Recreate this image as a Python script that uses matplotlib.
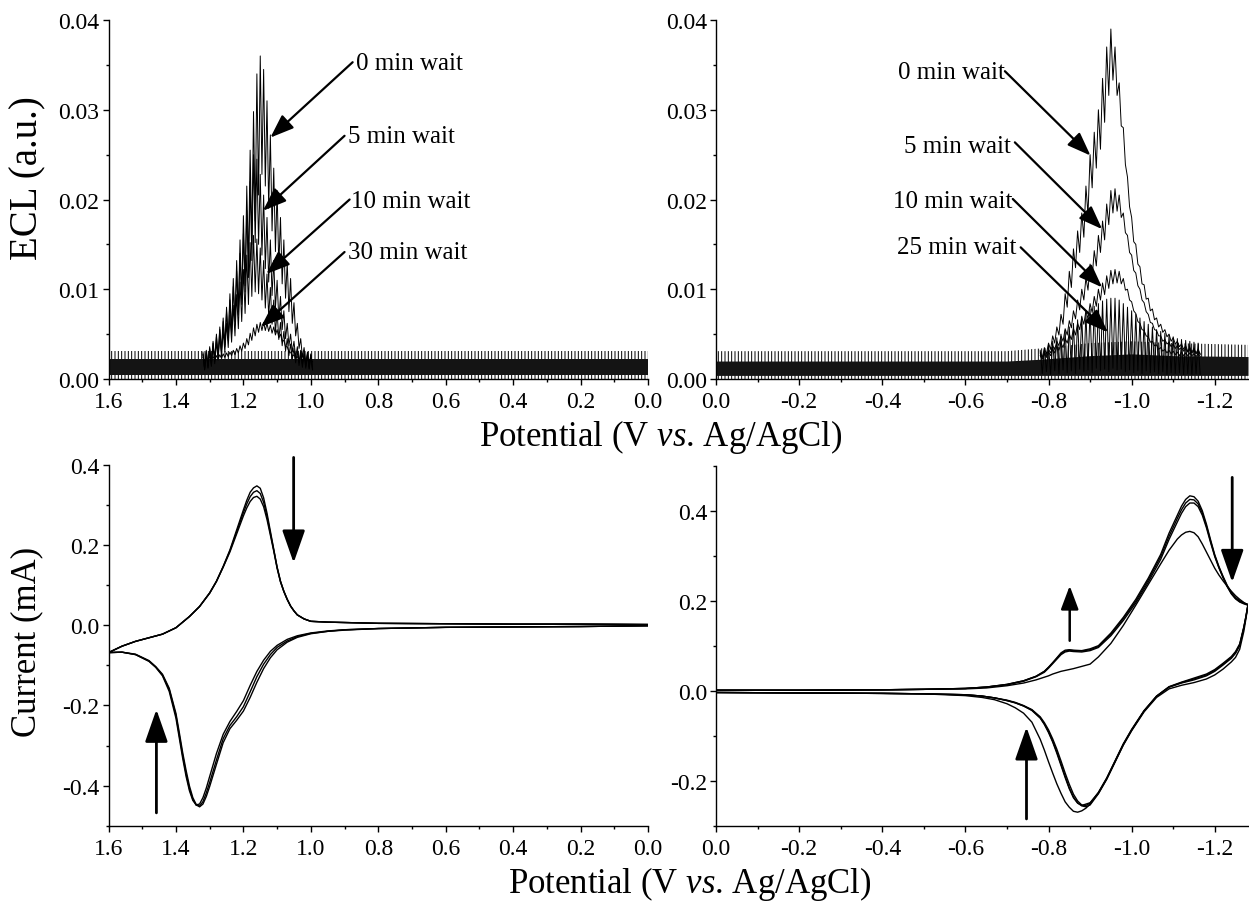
import numpy as np
import matplotlib.pyplot as plt
from matplotlib.ticker import MultipleLocator, FuncFormatter

plt.rcParams['font.family'] = ['Liberation Serif', 'DejaVu Serif']
plt.rcParams['mathtext.fontset'] = 'custom'
plt.rcParams['mathtext.rm'] = 'Liberation Serif'
plt.rcParams['mathtext.it'] = 'Liberation Serif:italic'
plt.rcParams['axes.unicode_minus'] = False
plt.rcParams['hatch.linewidth'] = 0.7

## ECL, positive scan (top left), spikes: hi = tops, lo = troughs
ecl_l_v = [1.32, 1.31, 1.30, 1.29, 1.28, 1.27, 1.26, 1.25, 1.24, 1.23, 1.22,
           1.21, 1.20, 1.19, 1.18, 1.17, 1.16, 1.15, 1.14, 1.13, 1.12, 1.11,
           1.10, 1.09, 1.08, 1.07, 1.06, 1.05, 1.04, 1.03, 1.02, 1.01, 1.00]
ecl_l0_hi = [0.0030, 0.0032, 0.0036, 0.0042, 0.0050, 0.0058, 0.0068, 0.0080, 0.0095, 0.0112, 0.0132,
             0.0155, 0.0182, 0.0215, 0.0255, 0.0298, 0.0340, 0.0360, 0.0345, 0.0310, 0.0272, 0.0235,
             0.0210, 0.0180, 0.0155, 0.0130, 0.0112, 0.0085, 0.0062, 0.0045, 0.0035, 0.0030, 0.0028]
ecl_l0_lo = [0.0012, 0.0015, 0.0018, 0.0022, 0.0026, 0.0031, 0.0038, 0.0046, 0.0052, 0.0064, 0.0075,
             0.0090, 0.0104, 0.0128, 0.0150, 0.0176, 0.0205, 0.0228, 0.0215, 0.0190, 0.0165, 0.0142,
             0.0125, 0.0106, 0.0090, 0.0075, 0.0062, 0.0048, 0.0034, 0.0024, 0.0018, 0.0014, 0.0012]
ecl_l5_hi = [0.0028, 0.0030, 0.0034, 0.0040, 0.0047, 0.0055, 0.0064, 0.0075, 0.0088, 0.0103, 0.0120,
             0.0140, 0.0162, 0.0188, 0.0220, 0.0250, 0.0245, 0.0228, 0.0205, 0.0180, 0.0155, 0.0132,
             0.0110, 0.0092, 0.0076, 0.0062, 0.0050, 0.0042, 0.0036, 0.0032, 0.0030, 0.0028, 0.0027]
ecl_l5_lo = [0.0011, 0.0013, 0.0016, 0.0020, 0.0025, 0.0030, 0.0036, 0.0043, 0.0050, 0.0060, 0.0071,
             0.0083, 0.0097, 0.0113, 0.0132, 0.0152, 0.0150, 0.0138, 0.0123, 0.0108, 0.0093, 0.0079,
             0.0066, 0.0055, 0.0045, 0.0037, 0.0030, 0.0024, 0.0019, 0.0016, 0.0014, 0.0012, 0.0011]
ecl_l10_hi = [0.0027, 0.0029, 0.0032, 0.0036, 0.0041, 0.0047, 0.0054, 0.0062, 0.0071, 0.0082, 0.0094,
              0.0108, 0.0122, 0.0138, 0.0152, 0.0160, 0.0156, 0.0146, 0.0132, 0.0117, 0.0102, 0.0088,
              0.0075, 0.0063, 0.0053, 0.0045, 0.0039, 0.0034, 0.0031, 0.0029, 0.0028, 0.0027, 0.0026]
ecl_l10_lo = [0.0010, 0.0012, 0.0014, 0.0017, 0.0021, 0.0025, 0.0030, 0.0035, 0.0041, 0.0048, 0.0056,
              0.0064, 0.0073, 0.0083, 0.0092, 0.0097, 0.0095, 0.0088, 0.0079, 0.0070, 0.0061, 0.0052,
              0.0044, 0.0037, 0.0031, 0.0026, 0.0022, 0.0018, 0.0015, 0.0013, 0.0012, 0.0011, 0.0010]
ecl_l30_hi = [0.0024, 0.0024, 0.0025, 0.0025, 0.0026, 0.0027, 0.0028, 0.0029, 0.0030, 0.0032, 0.0034,
              0.0037, 0.0040, 0.0045, 0.0051, 0.0057, 0.0061, 0.0063, 0.0063, 0.0062, 0.0060, 0.0058,
              0.0055, 0.0050, 0.0043, 0.0036, 0.0030, 0.0027, 0.0025, 0.0024, 0.0024, 0.0023, 0.0023]
ecl_l30_lo = [0.0020, 0.0020, 0.0021, 0.0021, 0.0022, 0.0023, 0.0024, 0.0025, 0.0026, 0.0027, 0.0029,
              0.0031, 0.0034, 0.0038, 0.0043, 0.0048, 0.0052, 0.0054, 0.0054, 0.0053, 0.0051, 0.0049,
              0.0046, 0.0042, 0.0036, 0.0030, 0.0025, 0.0023, 0.0021, 0.0020, 0.0020, 0.0019, 0.0019]

## ECL, negative scan (top right)
ecl_r_v = [-0.78, -0.79, -0.80, -0.81, -0.82, -0.83, -0.84, -0.85, -0.86, -0.87, -0.88, -0.89, -0.90,
           -0.91, -0.92, -0.93, -0.94, -0.95, -0.96, -0.97, -0.98, -0.99, -1.00, -1.01, -1.02, -1.03,
           -1.04, -1.05, -1.06, -1.07, -1.08, -1.09, -1.10, -1.11, -1.12, -1.13, -1.14, -1.15, -1.16]
ecl_r0_hi = [0.0030, 0.0034, 0.0040, 0.0048, 0.0058, 0.0072, 0.0095, 0.0120, 0.0145, 0.0165, 0.0185, 0.0215, 0.0250,
             0.0275, 0.0300, 0.0335, 0.0370, 0.0390, 0.0370, 0.0330, 0.0280, 0.0225, 0.0180, 0.0150, 0.0125, 0.0105,
             0.0090, 0.0078, 0.0068, 0.0061, 0.0055, 0.0050, 0.0046, 0.0042, 0.0039, 0.0037, 0.0035, 0.0034, 0.0033]
ecl_r0_lo = [0.0024, 0.0028, 0.0033, 0.0040, 0.0049, 0.0061, 0.0080, 0.0102, 0.0124, 0.0141, 0.0158, 0.0183, 0.0213,
             0.0235, 0.0256, 0.0286, 0.0316, 0.0333, 0.0316, 0.0282, 0.0239, 0.0192, 0.0153, 0.0128, 0.0106, 0.0089,
             0.0076, 0.0066, 0.0058, 0.0052, 0.0047, 0.0042, 0.0039, 0.0036, 0.0033, 0.0031, 0.0030, 0.0029, 0.0028]
ecl_r5_hi = [0.0028, 0.0030, 0.0033, 0.0037, 0.0042, 0.0048, 0.0056, 0.0065, 0.0076, 0.0088, 0.0100, 0.0113, 0.0128,
             0.0143, 0.0160, 0.0176, 0.0195, 0.0210, 0.0212, 0.0205, 0.0185, 0.0160, 0.0138, 0.0118, 0.0100, 0.0085,
             0.0072, 0.0062, 0.0054, 0.0048, 0.0044, 0.0041, 0.0039, 0.0037, 0.0035, 0.0034, 0.0033, 0.0032, 0.0031]
ecl_r5_lo = [0.0024, 0.0026, 0.0029, 0.0033, 0.0037, 0.0042, 0.0049, 0.0057, 0.0067, 0.0077, 0.0088, 0.0099, 0.0113,
             0.0126, 0.0141, 0.0155, 0.0172, 0.0185, 0.0187, 0.0180, 0.0163, 0.0141, 0.0121, 0.0104, 0.0088, 0.0075,
             0.0063, 0.0055, 0.0048, 0.0042, 0.0039, 0.0036, 0.0034, 0.0033, 0.0031, 0.0030, 0.0029, 0.0028, 0.0027]
ecl_r10_hi = [0.0026, 0.0028, 0.0030, 0.0033, 0.0036, 0.0040, 0.0045, 0.0050, 0.0056, 0.0062, 0.0069, 0.0076, 0.0084,
              0.0092, 0.0100, 0.0107, 0.0115, 0.0121, 0.0122, 0.0120, 0.0112, 0.0100, 0.0086, 0.0073, 0.0062, 0.0054,
              0.0047, 0.0042, 0.0038, 0.0035, 0.0033, 0.0032, 0.0031, 0.0030, 0.0030, 0.0029, 0.0029, 0.0028, 0.0028]
ecl_r10_lo = [0.0022, 0.0024, 0.0026, 0.0029, 0.0032, 0.0035, 0.0040, 0.0044, 0.0049, 0.0055, 0.0061, 0.0067, 0.0074,
              0.0081, 0.0088, 0.0094, 0.0101, 0.0106, 0.0107, 0.0106, 0.0099, 0.0088, 0.0076, 0.0064, 0.0055, 0.0048,
              0.0041, 0.0037, 0.0033, 0.0031, 0.0029, 0.0028, 0.0027, 0.0026, 0.0026, 0.0026, 0.0026, 0.0025, 0.0025]
ecl_r25_hi = [0.0032, 0.0035, 0.0038, 0.0042, 0.0046, 0.0050, 0.0054, 0.0058, 0.0062, 0.0066, 0.0070, 0.0074, 0.0078,
              0.0081, 0.0084, 0.0087, 0.0089, 0.0090, 0.0090, 0.0088, 0.0084, 0.0080, 0.0076, 0.0072, 0.0068, 0.0064,
              0.0061, 0.0058, 0.0055, 0.0053, 0.0051, 0.0049, 0.0047, 0.0045, 0.0044, 0.0043, 0.0042, 0.0041, 0.0040]
ecl_r25_lo = [0.0006, 0.0008, 0.0005, 0.0009, 0.0006, 0.0010, 0.0007, 0.0009, 0.0006, 0.0011, 0.0008, 0.0010, 0.0007,
              0.0012, 0.0009, 0.0011, 0.0008, 0.0012, 0.0010, 0.0011, 0.0008, 0.0010, 0.0007, 0.0009, 0.0006, 0.0009,
              0.0007, 0.0008, 0.0006, 0.0008, 0.0005, 0.0007, 0.0006, 0.0007, 0.0005, 0.0006, 0.0005, 0.0006, 0.0005]

# background noise band of all scans
noise_l_v = [1.6, 0.0]
noise_l_core = [0.0022, 0.0022]
noise_l_top = [0.0031, 0.0031]
noise_r_v = [0.0, -0.70, -0.78, -0.90, -1.00, -1.10, -1.28]
noise_r_core = [0.0020, 0.0020, 0.0022, 0.0026, 0.0028, 0.0026, 0.0025]
noise_r_top = [0.0031, 0.0031, 0.0034, 0.0040, 0.0042, 0.0040, 0.0038]
noise_floor = 0.0004

labels_l = ['0 min wait', '5 min wait', '10 min wait', '30 min wait']
labels_r = ['0 min wait', '5 min wait', '10 min wait', '25 min wait']

## CV, positive side (bottom left)
cvL_up_v = [0.0, 0.2, 0.4, 0.6, 0.8, 0.9, 0.95, 1.0, 1.02, 1.04, 1.05, 1.06, 1.07, 1.08, 1.09, 1.10,
            1.11, 1.12, 1.13, 1.14, 1.15, 1.16, 1.17, 1.18, 1.19, 1.20, 1.22, 1.24, 1.26, 1.28, 1.30,
            1.33, 1.36, 1.40, 1.44, 1.48, 1.52, 1.56, 1.60]
cvL_up_1 = [0.002, 0.003, 0.003, 0.004, 0.005, 0.007, 0.008, 0.010, 0.016, 0.026, 0.036, 0.048, 0.065, 0.085, 0.110, 0.145,
            0.190, 0.235, 0.280, 0.318, 0.342, 0.348, 0.343, 0.332, 0.312, 0.288, 0.238, 0.188, 0.147, 0.110, 0.081,
            0.047, 0.022, -0.006, -0.022, -0.031, -0.040, -0.052, -0.068]
cvL_up_2 = [0.002, 0.003, 0.003, 0.004, 0.005, 0.007, 0.008, 0.010, 0.016, 0.026, 0.036, 0.048, 0.065, 0.085, 0.110, 0.145,
            0.188, 0.230, 0.272, 0.307, 0.329, 0.336, 0.332, 0.321, 0.303, 0.281, 0.233, 0.186, 0.146, 0.110, 0.081,
            0.047, 0.022, -0.006, -0.022, -0.031, -0.040, -0.052, -0.068]
cvL_up_3 = [0.002, 0.003, 0.003, 0.004, 0.005, 0.007, 0.008, 0.010, 0.016, 0.026, 0.036, 0.048, 0.064, 0.084, 0.108, 0.142,
            0.185, 0.225, 0.264, 0.296, 0.315, 0.322, 0.319, 0.309, 0.293, 0.273, 0.228, 0.183, 0.145, 0.109, 0.080,
            0.047, 0.022, -0.006, -0.022, -0.031, -0.040, -0.052, -0.068]
cvL_dn_v = [1.60, 1.56, 1.52, 1.48, 1.46, 1.44, 1.42, 1.40, 1.39, 1.38, 1.37, 1.36, 1.35, 1.34, 1.33, 1.32, 1.31,
            1.30, 1.28, 1.26, 1.24, 1.22, 1.20, 1.18, 1.16, 1.14, 1.12, 1.10, 1.07, 1.04, 1.00, 0.95, 0.90,
            0.80, 0.60, 0.40, 0.20, 0.00]
cvL_dn_1 = [-0.068, -0.067, -0.073, -0.090, -0.105, -0.126, -0.165, -0.232, -0.282, -0.332, -0.377, -0.413, -0.437,
            -0.448, -0.446, -0.430, -0.406, -0.377, -0.320, -0.272, -0.240, -0.215, -0.188, -0.150, -0.115, -0.087,
            -0.065, -0.050, -0.035, -0.026, -0.019, -0.014, -0.011, -0.008, -0.005, -0.004, -0.003, -0.001]
cvL_dn_2 = [-0.068, -0.067, -0.073, -0.089, -0.104, -0.124, -0.160, -0.225, -0.275, -0.325, -0.370, -0.408, -0.434,
            -0.449, -0.451, -0.440, -0.418, -0.392, -0.336, -0.283, -0.250, -0.228, -0.203, -0.166, -0.128, -0.097,
            -0.073, -0.055, -0.039, -0.028, -0.020, -0.015, -0.011, -0.008, -0.005, -0.004, -0.003, -0.001]
cvL_dn_3 = [-0.068, -0.067, -0.072, -0.088, -0.103, -0.122, -0.157, -0.220, -0.268, -0.318, -0.362, -0.401, -0.430,
            -0.447, -0.453, -0.446, -0.427, -0.402, -0.347, -0.293, -0.258, -0.237, -0.214, -0.180, -0.142, -0.108,
            -0.081, -0.061, -0.042, -0.030, -0.021, -0.015, -0.012, -0.008, -0.005, -0.004, -0.003, -0.001]

## CV, negative side (bottom right)
cvR_up_v = [0.0, -0.2, -0.4, -0.5, -0.6, -0.65, -0.70, -0.74, -0.77, -0.79, -0.80, -0.81, -0.82, -0.83, -0.84,
            -0.85, -0.86, -0.88, -0.90, -0.92, -0.95, -0.98, -1.01, -1.04, -1.07, -1.09, -1.11, -1.12, -1.13,
            -1.14, -1.15, -1.16, -1.17, -1.18, -1.19, -1.20, -1.21, -1.22, -1.23, -1.24, -1.25, -1.26, -1.27, -1.28]
cvR_up_a = [0.001, 0.001, 0.002, 0.003, 0.005, 0.008, 0.014, 0.022, 0.032, 0.043, 0.052, 0.062, 0.073, 0.084, 0.090,
            0.091, 0.090, 0.089, 0.093, 0.100, 0.128, 0.163, 0.203, 0.250, 0.303, 0.350, 0.390, 0.410, 0.425,
            0.433, 0.431, 0.421, 0.400, 0.370, 0.335, 0.302, 0.276, 0.254, 0.234, 0.218, 0.207, 0.200, 0.195, 0.192]
cvR_up_b = [0.001, 0.001, 0.002, 0.003, 0.005, 0.008, 0.014, 0.022, 0.032, 0.043, 0.052, 0.062, 0.072, 0.082, 0.088,
            0.090, 0.089, 0.088, 0.091, 0.098, 0.125, 0.160, 0.199, 0.246, 0.298, 0.343, 0.383, 0.402, 0.417,
            0.425, 0.424, 0.415, 0.395, 0.366, 0.332, 0.300, 0.274, 0.252, 0.232, 0.216, 0.205, 0.198, 0.194, 0.191]
cvR_up_c = [0.001, 0.001, 0.002, 0.003, 0.005, 0.008, 0.013, 0.021, 0.031, 0.041, 0.050, 0.060, 0.070, 0.080, 0.086,
            0.088, 0.087, 0.086, 0.089, 0.096, 0.122, 0.156, 0.195, 0.241, 0.292, 0.336, 0.375, 0.394, 0.409,
            0.417, 0.417, 0.409, 0.390, 0.362, 0.329, 0.298, 0.273, 0.251, 0.231, 0.215, 0.204, 0.197, 0.193, 0.190]
cvR_up_d = [0.001, 0.001, 0.002, 0.003, 0.004, 0.006, 0.011, 0.017, 0.024, 0.030, 0.033, 0.037, 0.040, 0.043, 0.045,
            0.047, 0.049, 0.054, 0.059, 0.075, 0.105, 0.145, 0.190, 0.236, 0.282, 0.312, 0.337, 0.346, 0.352,
            0.354, 0.351, 0.342, 0.326, 0.308, 0.290, 0.272, 0.257, 0.244, 0.232, 0.221, 0.211, 0.203, 0.196, 0.190]
cvR_dn_v = [-1.28, -1.275, -1.27, -1.26, -1.25, -1.24, -1.22, -1.20, -1.18, -1.15, -1.12, -1.09, -1.06, -1.03,
            -1.00, -0.98, -0.96, -0.94, -0.92, -0.90, -0.89, -0.88, -0.87, -0.86, -0.85, -0.84, -0.83, -0.82,
            -0.81, -0.80, -0.79, -0.78, -0.76, -0.74, -0.72, -0.70, -0.67, -0.64, -0.60, -0.50, -0.40, -0.20, 0.0]
cvR_dn_a = [0.192, 0.165, 0.140, 0.100, 0.083, 0.072, 0.057, 0.043, 0.033, 0.024, 0.017, 0.008, -0.012, -0.045,
            -0.088, -0.120, -0.158, -0.196, -0.228, -0.252, -0.261, -0.267, -0.270, -0.268, -0.259, -0.247, -0.228,
            -0.207, -0.183, -0.158, -0.132, -0.108, -0.070, -0.050, -0.038, -0.029, -0.020, -0.015, -0.011, -0.007,
            -0.006, -0.005, -0.004]
cvR_dn_b = [0.191, 0.165, 0.142, 0.104, 0.087, 0.076, 0.061, 0.047, 0.037, 0.028, 0.019, 0.009, -0.012, -0.044,
            -0.086, -0.118, -0.156, -0.194, -0.226, -0.250, -0.255, -0.254, -0.245, -0.230, -0.208, -0.183, -0.156,
            -0.130, -0.107, -0.087, -0.071, -0.058, -0.042, -0.033, -0.026, -0.021, -0.016, -0.012, -0.009, -0.007,
            -0.006, -0.005, -0.004]
cvR_dn_c = [0.190, 0.163, 0.140, 0.102, 0.085, 0.074, 0.059, 0.045, 0.035, 0.026, 0.018, 0.008, -0.013, -0.045,
            -0.087, -0.119, -0.157, -0.195, -0.227, -0.249, -0.252, -0.255, -0.250, -0.238, -0.218, -0.193, -0.166,
            -0.139, -0.114, -0.093, -0.075, -0.061, -0.044, -0.034, -0.027, -0.022, -0.016, -0.012, -0.009, -0.007,
            -0.006, -0.005, -0.004]
cvR_dn_d = [0.190, 0.160, 0.132, 0.092, 0.074, 0.064, 0.048, 0.035, 0.026, 0.018, 0.012, 0.004, -0.015, -0.047,
            -0.089, -0.121, -0.159, -0.197, -0.229, -0.254, -0.258, -0.256, -0.249, -0.236, -0.216, -0.190, -0.163,
            -0.136, -0.112, -0.091, -0.074, -0.060, -0.043, -0.034, -0.027, -0.022, -0.016, -0.012, -0.009, -0.007,
            -0.006, -0.005, -0.004]

## annotation arrows (tail, tip) in data units
arr_tl = [((0.876, 0.0353), (1.120, 0.0269)), ((0.900, 0.0271), (1.142, 0.01875)),
          ((0.885, 0.0200), (1.132, 0.0117)), ((0.900, 0.01415), (1.148, 0.0058))]
txt_tl = [(0.867, 0.03454), (0.891, 0.02646), (0.880, 0.01922), (0.891, 0.01348)]
arr_tr = [((-0.695, 0.0343), (-0.901, 0.0249)), ((-0.719, 0.02637), (-0.929, 0.0167)),
          ((-0.714, 0.02006), (-0.929, 0.01021)), ((-0.733, 0.01467), (-0.943, 0.0052))]
txt_tr = [(-0.695, 0.03354), (-0.709, 0.02535), (-0.714, 0.01922), (-0.723, 0.01404)]
arr_bl = [((1.051, 0.419), (1.051, 0.156)), ((1.458, -0.468), (1.458, -0.21))]
arr_br = [((-0.851, 0.111), (-0.851, 0.233)), ((-1.242, 0.474), (-1.242, 0.241)),
          ((-0.747, -0.285), (-0.747, -0.081))]


def zigzag(v, hi, lo, half=-0.005):
    x = np.empty(2 * len(v))
    y = np.empty(2 * len(v))
    x[0::2] = v
    x[1::2] = np.array(v) + half
    y[0::2] = hi
    y[1::2] = lo
    return x, y


def style(ax, xmaj, ymaj, yfmt):
    for s in ['top', 'right']:
        ax.spines[s].set_visible(False)
    for s in ['left', 'bottom']:
        ax.spines[s].set_linewidth(1.0)
    ax.xaxis.set_major_locator(MultipleLocator(xmaj))
    ax.xaxis.set_minor_locator(MultipleLocator(xmaj / 2))
    ax.yaxis.set_major_locator(MultipleLocator(ymaj))
    ax.yaxis.set_minor_locator(MultipleLocator(ymaj / 2))
    ax.xaxis.set_major_formatter(FuncFormatter(lambda v, p: ('%.1f' % v).replace('-0.0', '0.0')))
    ax.yaxis.set_major_formatter(FuncFormatter(lambda v, p: (yfmt % v).replace('-0.0', '0.0')))
    ax.tick_params(which='major', direction='out', length=4.5, width=1, labelsize=17, pad=2)
    ax.tick_params(axis='x', which='major', pad=4.5)
    ax.tick_params(which='minor', direction='out', length=2.5, width=1)


def arrow(ax, tail, tip, scale, hl, hw, lw=1.6):
    ax.annotate('', xy=tip, xytext=tail, annotation_clip=False,
                arrowprops=dict(arrowstyle='-|>,head_length=%g,head_width=%g' % (hl, hw),
                                mutation_scale=scale, lw=lw, color='k',
                                shrinkA=0, shrinkB=0))


fig = plt.figure(figsize=(12.49, 9.03), dpi=100)
ax_tl = fig.add_axes([0.0869, 0.5792, 0.4319, 0.3975])
ax_tr = fig.add_axes([0.5733, 0.5792, 0.4259, 0.3975])
ax_bl = fig.add_axes([0.0869, 0.0845, 0.4319, 0.3994])
ax_br = fig.add_axes([0.5733, 0.0845, 0.4259, 0.3987])

# top left: ECL
ax_tl.fill_between(noise_l_v, 0, noise_l_top, facecolor='none', edgecolor='k', hatch='|||||', lw=0)
ax_tl.fill_between(noise_l_v, noise_floor, noise_l_core, color='0.08', lw=0)
for hi, lo in [(ecl_l30_hi, ecl_l30_lo), (ecl_l10_hi, ecl_l10_lo),
               (ecl_l5_hi, ecl_l5_lo), (ecl_l0_hi, ecl_l0_lo)]:
    x, y = zigzag(ecl_l_v, hi, lo)
    ax_tl.plot(x, y, color='k', lw=0.7)
for (tail, tip), pos, lab in zip(arr_tl, txt_tl, labels_l):
    arrow(ax_tl, tail, tip, 18, 0.8, 0.3)
    ax_tl.text(pos[0], pos[1], lab, ha='left', va='baseline', fontsize=18)
ax_tl.set_xlim(1.6, 0.0)
ax_tl.set_ylim(0.0, 0.04)
style(ax_tl, 0.2, 0.01, '%.2f')

# top right: ECL
ax_tr.fill_between(noise_r_v, 0, noise_r_top, facecolor='none', edgecolor='k', hatch='|||||', lw=0)
ax_tr.fill_between(noise_r_v, noise_floor, noise_r_core, color='0.08', lw=0)
for hi, lo in [(ecl_r25_hi, ecl_r25_lo), (ecl_r10_hi, ecl_r10_lo),
               (ecl_r5_hi, ecl_r5_lo), (ecl_r0_hi, ecl_r0_lo)]:
    x, y = zigzag(ecl_r_v, hi, lo)
    ax_tr.plot(x, y, color='k', lw=0.7)
for (tail, tip), pos, lab in zip(arr_tr, txt_tr, labels_r):
    arrow(ax_tr, tail, tip, 18, 0.8, 0.3)
    ax_tr.text(pos[0], pos[1], lab, ha='right', va='baseline', fontsize=18)
ax_tr.set_xlim(0.0, -1.28)
ax_tr.set_ylim(0.0, 0.04)
style(ax_tr, 0.2, 0.01, '%.2f')

# bottom left: CV
for up, dn in [(cvL_up_1, cvL_dn_1), (cvL_up_2, cvL_dn_2), (cvL_up_3, cvL_dn_3)]:
    ax_bl.plot(cvL_up_v + cvL_dn_v, up + dn, color='k', lw=1.0)
for tail, tip in arr_bl:
    arrow(ax_bl, tail, tip, 20, 1.0, 0.35, lw=2)
ax_bl.set_xlim(1.6, 0.0)
ax_bl.set_ylim(-0.5, 0.4)
style(ax_bl, 0.2, 0.2, '%.1f')

# bottom right: CV
for up, dn in [(cvR_up_a, cvR_dn_a), (cvR_up_b, cvR_dn_b), (cvR_up_c, cvR_dn_c), (cvR_up_d, cvR_dn_d)]:
    ax_br.plot(cvR_up_v + cvR_dn_v, up + dn, color='k', lw=1.0)
for i, (tail, tip) in enumerate(arr_br):
    if i == 0:
        arrow(ax_br, tail, tip, 18, 0.8, 0.3, lw=1.8)
    else:
        arrow(ax_br, tail, tip, 20, 1.0, 0.35, lw=2)
ax_br.set_xlim(0.0, -1.28)
ax_br.set_ylim(-0.3, 0.5)
style(ax_br, 0.2, 0.2, '%.1f')

# axis titles
fig.text(28 / 1249, 1 - 178 / 903, 'ECL (a.u.)', rotation=90, ha='center', va='center', fontsize=28)
fig.text(27 / 1249, 1 - 642 / 903, 'Current (mA)', rotation=90, ha='center', va='center', fontsize=25)
fig.text(661 / 1249, 1 - 446 / 903, r'Potential (V $\mathit{vs}$. Ag/AgCl)', ha='center', va='baseline', fontsize=25)
fig.text(690 / 1249, 1 - 893 / 903, r'Potential (V $\mathit{vs}$. Ag/AgCl)', ha='center', va='baseline', fontsize=25)

fig.savefig('out.png', dpi=100)
